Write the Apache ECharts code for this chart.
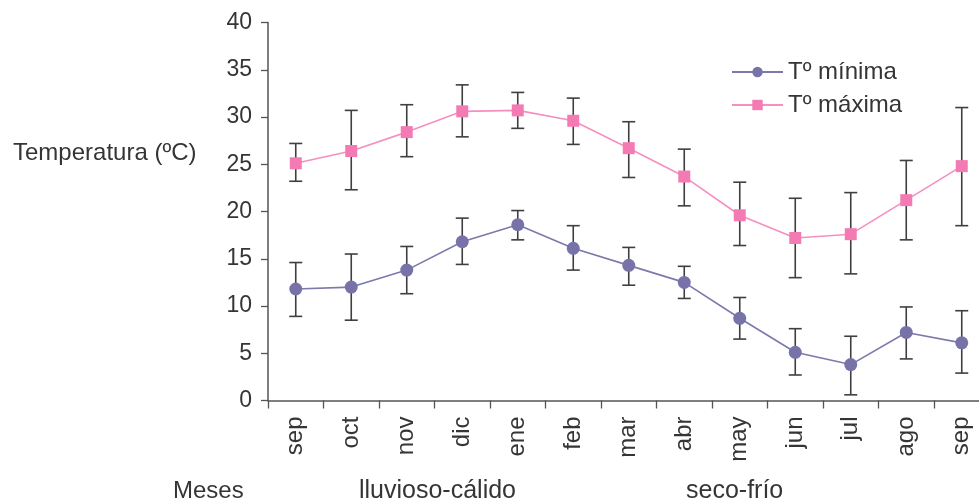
<!DOCTYPE html>
<html>
<head>
<meta charset="utf-8">
<script src="https://cdn.jsdelivr.net/npm/echarts@6/dist/echarts.min.js"></script>
<style>
html,body{margin:0;padding:0;background:#fff;}
#chart{width:979px;height:502px;}
</style>
</head>
<body>
<div id="chart"></div>
<script>
var months = ['sep','oct','nov','dic','ene','feb','mar','abr','may','jun','jul','ago','sep'];
var yTicks = [0,5,10,15,20,25,30,35,40];

var minTemp = [11.8, 12.0, 13.8, 16.8, 18.6, 16.1, 14.3, 12.5, 8.7, 5.1, 3.8, 7.2, 6.1];
var minLow  = [8.9, 8.5, 11.3, 14.4, 17.0, 13.8, 12.2, 10.8, 6.5, 2.7, 0.6, 4.4, 2.9];
var minHigh = [14.6, 15.5, 16.3, 19.3, 20.1, 18.5, 16.2, 14.2, 10.9, 7.6, 6.8, 9.9, 9.5];

var maxTemp = [25.1, 26.4, 28.4, 30.6, 30.7, 29.6, 26.7, 23.7, 19.6, 17.2, 17.6, 21.2, 24.8];
var maxLow  = [23.2, 22.3, 25.8, 27.9, 28.8, 27.1, 23.6, 20.6, 16.4, 13.0, 13.4, 17.0, 18.5];
var maxHigh = [27.2, 30.7, 31.3, 33.4, 32.6, 32.0, 29.5, 26.6, 23.1, 21.4, 22.0, 25.4, 31.0];

var FONT = 'Liberation Sans, Arial, Helvetica, sans-serif';
var TXT = '#353535';

function errData(lo, hi){ return months.map(function(m,i){ return [i, lo[i], hi[i]]; }); }
function errRender(params, api){
  var lo = api.coord([api.value(0), api.value(1)]);
  var hi = api.coord([api.value(0), api.value(2)]);
  var hw = 6.5;
  var st = {stroke:'#3f3f3f', lineWidth:1.6};
  return {type:'group', children:[
    {type:'line', shape:{x1:lo[0], y1:lo[1], x2:hi[0], y2:hi[1]}, style:st},
    {type:'line', shape:{x1:lo[0]-hw, y1:hi[1], x2:lo[0]+hw, y2:hi[1]}, style:st},
    {type:'line', shape:{x1:lo[0]-hw, y1:lo[1], x2:lo[0]+hw, y2:lo[1]}, style:st}
  ]};
}

var chart = echarts.init(document.getElementById('chart'), null, {renderer:'canvas'});
chart.setOption({
  animation:false,
  backgroundColor:'#ffffff',
  textStyle:{fontFamily:FONT},
  grid:{left:268, top:22.5, height:378, width:721.5, containLabel:false, outerBoundsMode:'none'},
  legend:{
    orient:'vertical', left:726, top:55, itemWidth:51, itemHeight:13, itemGap:9,
    data:['T\u00ba m\u00ednima','T\u00ba m\u00e1xima'],
    textStyle:{fontSize:24, color:TXT, fontFamily:FONT}
  },
  xAxis:{
    type:'category', data:months, boundaryGap:true,
    axisLine:{show:true, lineStyle:{color:'#555', width:1.5}},
    axisTick:{show:true, length:8, lineStyle:{color:'#555', width:1.3}},
    axisLabel:{rotate:90, interval:0, margin:16, fontSize:24, color:TXT, fontFamily:FONT},
    splitLine:{show:false}
  },
  yAxis:{
    type:'value', min:yTicks[0], max:yTicks[yTicks.length-1], interval:5,
    axisLine:{show:true, lineStyle:{color:'#555', width:1.5}},
    axisTick:{show:true, length:7, lineStyle:{color:'#555', width:1.3}},
    axisLabel:{margin:16, fontSize:23, color:TXT, fontFamily:FONT},
    splitLine:{show:false}
  },
  graphic:[
    {type:'text', left:13, top:141, style:{text:'Temperatura (\u00baC)', font:'24px '+FONT, fill:TXT}},
    {type:'text', left:173, top:479, style:{text:'Meses', font:'24px '+FONT, fill:TXT}},
    {type:'text', left:359, top:479, style:{text:'lluvioso-c\u00e1lido', font:'25px '+FONT, fill:TXT}},
    {type:'text', left:686, top:479, style:{text:'seco-fr\u00edo', font:'25px '+FONT, fill:TXT}}
  ],
  series:[
    {type:'custom', name:'errMin', z:1, data:errData(minLow, minHigh), encode:{x:0, y:[1,2]}, renderItem:errRender, silent:true},
    {type:'custom', name:'errMax', z:1, data:errData(maxLow, maxHigh), encode:{x:0, y:[1,2]}, renderItem:errRender, silent:true},
    {type:'line', name:'T\u00ba m\u00ednima', z:3, data:minTemp, symbol:'circle', symbolSize:13,
      itemStyle:{color:'#7773a8'}, lineStyle:{color:'#7c79ad', width:1.6}},
    {type:'line', name:'T\u00ba m\u00e1xima', z:3, data:maxTemp, symbol:'rect', symbolSize:12,
      itemStyle:{color:'#f47ab4'}, lineStyle:{color:'#f58fc2', width:1.6}}
  ]
});
</script>
</body>
</html>
